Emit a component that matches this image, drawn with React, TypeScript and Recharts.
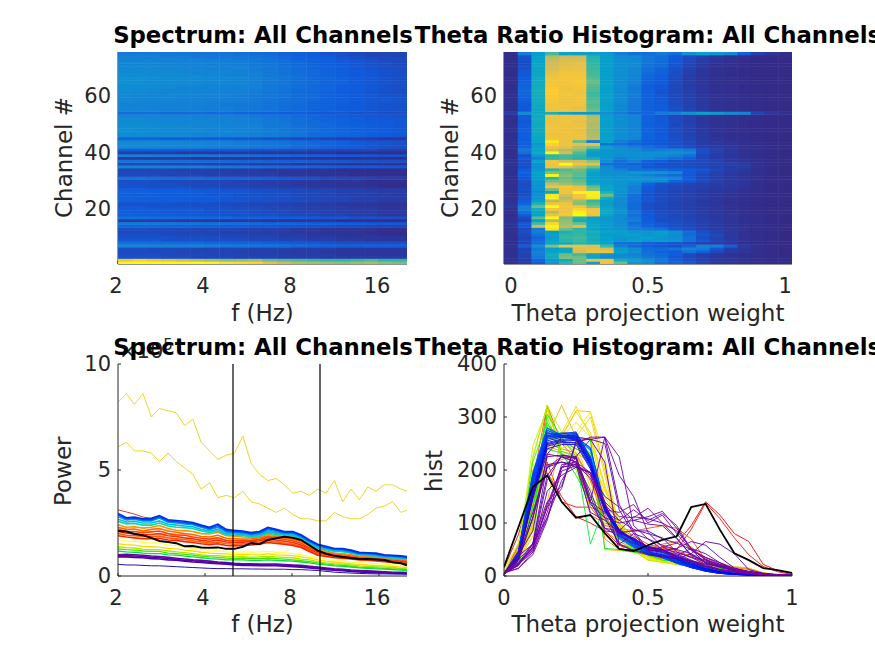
import React from "react";
import {
  ScatterChart,
  Scatter,
  LineChart,
  Line,
  XAxis,
  YAxis,
  ReferenceLine,
} from "recharts";

// parula colour stops
const parulaStops = ["#352a87", "#0f5cdd", "#1481d6", "#06a4ca", "#2eb7a4", "#87bf77", "#d1bb59", "#fec832", "#f9fb0e"];

const histLevels = [[0, 0], [10, 0.03], [30, 0.09], [45, 0.15], [55, 0.22], [70, 0.28], [130, 0.36], [190, 0.42], [220, 0.55], [240, 0.7], [262, 0.83], [320, 1]];

const spectrumFreqs = [2.12, 2.38, 2.67, 2.99, 3.36, 3.77, 4.23, 4.75, 5.33, 5.98, 6.71, 7.53, 8.45, 9.49, 10.65, 11.95, 13.41, 15.05, 16.89, 18.95];

// colour level x100, row 0 = channel 1
const spectrumHeat = [
  [98, 99, 98, 96, 94, 92, 88, 84, 82, 80, 72, 66, 62, 60, 58, 56, 58, 60, 56, 54],
  [76, 80, 76, 72, 68, 64, 60, 56, 56, 58, 52, 50, 48, 46, 44, 44, 46, 48, 44, 44],
  [9, 9, 9, 8, 8, 7, 7, 7, 6, 6, 6, 5, 5, 5, 4, 4, 4, 4, 4, 4],
  [8, 8, 8, 7, 7, 7, 6, 6, 6, 5, 5, 5, 4, 4, 4, 3, 3, 3, 3, 3],
  [7, 7, 7, 7, 6, 6, 6, 6, 5, 5, 5, 4, 4, 4, 3, 3, 3, 3, 3, 3],
  [8, 8, 7, 7, 7, 6, 6, 6, 6, 5, 5, 5, 4, 4, 4, 3, 3, 3, 3, 3],
  [24, 24, 23, 22, 22, 22, 21, 20, 20, 19, 18, 17, 15, 14, 13, 12, 12, 12, 12, 12],
  [17, 17, 16, 16, 15, 15, 14, 14, 13, 13, 12, 11, 10, 10, 9, 8, 8, 8, 8, 8],
  [10, 10, 10, 9, 9, 9, 8, 8, 8, 7, 7, 6, 6, 5, 5, 4, 4, 3, 3, 3],
  [9, 9, 9, 9, 8, 8, 8, 7, 7, 6, 6, 5, 5, 4, 4, 3, 3, 3, 3, 3],
  [8, 8, 8, 7, 7, 7, 6, 6, 6, 5, 5, 4, 4, 3, 3, 2, 2, 2, 1, 1],
  [7, 7, 7, 7, 6, 6, 6, 5, 5, 5, 4, 4, 3, 3, 2, 2, 2, 1, 1, 1],
  [8, 8, 7, 7, 7, 6, 6, 6, 5, 5, 5, 4, 3, 3, 2, 2, 2, 2, 1, 1],
  [14, 14, 14, 13, 13, 12, 12, 11, 11, 10, 10, 9, 9, 8, 8, 7, 7, 6, 6, 6],
  [20, 20, 19, 19, 18, 18, 17, 17, 16, 15, 14, 14, 13, 12, 12, 11, 11, 10, 10, 10],
  [4, 4, 4, 4, 3, 3, 3, 3, 3, 3, 2, 2, 2, 2, 2, 1, 1, 1, 1, 1],
  [18, 18, 17, 17, 16, 16, 15, 15, 14, 14, 13, 12, 12, 11, 10, 10, 9, 9, 8, 8],
  [12, 12, 11, 11, 11, 10, 10, 9, 9, 8, 8, 7, 7, 6, 5, 5, 4, 4, 3, 3],
  [12, 11, 11, 11, 10, 10, 9, 9, 9, 8, 7, 7, 6, 6, 5, 5, 4, 4, 3, 3],
  [11, 11, 11, 10, 10, 10, 9, 9, 8, 8, 7, 7, 6, 5, 5, 4, 4, 4, 3, 3],
  [10, 10, 9, 9, 9, 8, 8, 8, 7, 7, 6, 6, 5, 5, 4, 4, 3, 3, 2, 2],
  [9, 9, 9, 9, 8, 8, 8, 7, 7, 6, 6, 5, 5, 4, 4, 3, 3, 3, 2, 2],
  [13, 13, 12, 12, 12, 11, 11, 10, 10, 9, 9, 8, 8, 7, 6, 6, 5, 5, 4, 4],
  [13, 12, 12, 12, 11, 11, 11, 10, 9, 9, 8, 8, 7, 7, 6, 6, 5, 5, 4, 4],
  [12, 12, 12, 11, 11, 11, 10, 10, 9, 9, 8, 8, 7, 6, 6, 5, 5, 4, 4, 4],
  [13, 13, 12, 12, 12, 11, 10, 10, 10, 9, 8, 8, 7, 7, 6, 5, 5, 5, 4, 4],
  [12, 12, 11, 11, 11, 10, 10, 9, 9, 8, 8, 7, 7, 6, 6, 5, 5, 4, 4, 4],
  [9, 9, 8, 8, 8, 7, 7, 6, 6, 5, 5, 4, 4, 3, 3, 2, 2, 2, 1, 1],
  [9, 8, 8, 8, 7, 7, 7, 6, 6, 5, 4, 4, 3, 3, 3, 2, 2, 1, 1, 1],
  [8, 8, 8, 7, 7, 6, 6, 6, 5, 5, 4, 4, 3, 3, 2, 2, 2, 1, 1, 1],
  [18, 18, 17, 17, 16, 16, 15, 14, 14, 13, 12, 11, 10, 9, 8, 7, 7, 6, 5, 5],
  [7, 7, 7, 6, 6, 6, 5, 5, 5, 4, 4, 3, 3, 3, 2, 2, 1, 1, 1, 1],
  [7, 7, 6, 6, 6, 5, 5, 5, 4, 4, 4, 3, 3, 2, 2, 2, 1, 1, 1, 1],
  [6, 6, 6, 6, 5, 5, 5, 4, 4, 4, 3, 3, 3, 2, 2, 1, 1, 1, 1, 1],
  [24, 24, 23, 23, 22, 22, 21, 20, 19, 18, 17, 16, 15, 14, 13, 12, 11, 11, 10, 10],
  [7, 7, 7, 6, 6, 6, 5, 5, 5, 4, 4, 4, 3, 3, 3, 2, 2, 2, 2, 2],
  [18, 18, 18, 17, 17, 16, 16, 15, 14, 14, 13, 12, 12, 11, 10, 10, 9, 9, 8, 8],
  [3, 3, 3, 3, 3, 2, 2, 2, 2, 2, 2, 2, 2, 1, 1, 1, 1, 1, 1, 1],
  [22, 22, 21, 21, 20, 20, 19, 18, 18, 17, 16, 15, 14, 13, 12, 11, 11, 10, 9, 9],
  [4, 4, 4, 4, 3, 3, 3, 3, 3, 3, 2, 2, 2, 2, 2, 1, 1, 1, 1, 1],
  [12, 12, 12, 11, 11, 11, 10, 10, 10, 9, 9, 8, 8, 7, 7, 6, 6, 6, 5, 5],
  [25, 25, 24, 24, 23, 23, 22, 21, 21, 20, 19, 18, 16, 15, 13, 12, 11, 10, 9, 8],
  [25, 25, 25, 24, 24, 23, 23, 22, 21, 20, 19, 18, 16, 15, 14, 12, 11, 10, 9, 8],
  [24, 24, 24, 23, 23, 22, 22, 21, 20, 19, 18, 17, 15, 14, 13, 12, 10, 9, 9, 8],
  [13, 13, 13, 12, 12, 12, 11, 11, 10, 10, 9, 8, 7, 7, 6, 5, 5, 4, 3, 3],
  [26, 26, 26, 25, 25, 24, 24, 23, 23, 22, 21, 20, 18, 16, 15, 14, 13, 12, 11, 10],
  [26, 26, 25, 25, 25, 24, 24, 24, 23, 22, 21, 20, 18, 16, 15, 14, 13, 12, 11, 10],
  [27, 26, 26, 25, 25, 25, 24, 24, 23, 22, 21, 19, 18, 17, 15, 14, 13, 12, 11, 10],
  [26, 26, 26, 25, 25, 24, 24, 23, 23, 22, 20, 19, 18, 16, 15, 14, 13, 12, 11, 10],
  [26, 26, 25, 25, 24, 24, 24, 23, 22, 22, 20, 19, 17, 16, 15, 13, 12, 12, 11, 10],
  [25, 25, 25, 24, 24, 24, 23, 23, 22, 21, 20, 19, 17, 16, 14, 13, 12, 11, 11, 10],
  [25, 25, 24, 24, 24, 23, 23, 22, 22, 21, 20, 18, 17, 15, 14, 13, 12, 11, 10, 10],
  [24, 24, 24, 23, 23, 23, 22, 22, 21, 20, 19, 18, 16, 15, 13, 12, 11, 10, 10, 9],
  [17, 17, 17, 16, 16, 16, 15, 15, 14, 14, 13, 12, 12, 11, 10, 10, 9, 9, 8, 8],
  [23, 23, 23, 22, 22, 22, 21, 21, 20, 20, 19, 17, 16, 14, 13, 12, 11, 10, 9, 9],
  [23, 23, 22, 22, 22, 21, 21, 21, 20, 19, 18, 17, 15, 14, 13, 11, 11, 10, 9, 9],
  [23, 23, 23, 22, 22, 22, 21, 20, 20, 19, 18, 17, 15, 14, 13, 12, 11, 10, 9, 9],
  [24, 23, 23, 23, 22, 22, 21, 21, 20, 20, 18, 17, 16, 14, 13, 12, 11, 10, 10, 9],
  [24, 24, 23, 23, 22, 22, 22, 21, 21, 20, 19, 17, 16, 15, 13, 12, 11, 10, 10, 9],
  [25, 24, 24, 24, 23, 23, 22, 22, 21, 20, 19, 18, 16, 15, 13, 12, 11, 10, 9, 9],
  [25, 25, 24, 24, 24, 23, 23, 22, 22, 21, 19, 18, 16, 15, 13, 12, 11, 10, 9, 8],
  [26, 25, 25, 24, 24, 24, 23, 23, 22, 21, 20, 18, 16, 15, 14, 12, 11, 10, 9, 8],
  [26, 26, 25, 25, 24, 24, 24, 23, 22, 22, 20, 18, 17, 15, 14, 12, 11, 10, 9, 8],
  [26, 26, 26, 25, 25, 24, 24, 23, 23, 22, 20, 19, 17, 15, 14, 12, 11, 10, 9, 8],
  [27, 26, 26, 26, 25, 25, 24, 24, 23, 22, 20, 19, 17, 15, 14, 13, 11, 10, 9, 8],
  [27, 27, 26, 26, 25, 25, 25, 24, 23, 22, 21, 19, 17, 16, 14, 13, 11, 10, 9, 8],
  [26, 26, 26, 25, 25, 25, 24, 24, 23, 22, 20, 19, 17, 15, 14, 12, 11, 10, 9, 8],
  [26, 26, 25, 25, 25, 24, 24, 23, 23, 22, 20, 18, 17, 15, 14, 12, 11, 10, 9, 8],
  [25, 25, 25, 25, 24, 24, 23, 23, 22, 21, 20, 18, 16, 15, 13, 12, 11, 10, 9, 8],
  [25, 25, 25, 24, 24, 23, 23, 22, 22, 21, 19, 18, 16, 14, 13, 12, 10, 9, 8, 8],
  [24, 24, 24, 24, 23, 23, 22, 22, 21, 20, 19, 17, 15, 14, 12, 11, 10, 9, 8, 7],
  [24, 24, 24, 23, 23, 22, 22, 21, 21, 20, 18, 17, 15, 13, 12, 11, 10, 9, 8, 7],
  [23, 23, 23, 23, 22, 22, 21, 21, 20, 19, 18, 16, 14, 13, 12, 10, 9, 8, 7, 7],
  [22, 22, 22, 21, 21, 20, 20, 20, 19, 18, 17, 15, 13, 12, 11, 9, 8, 7, 7, 6],
  [20, 20, 20, 19, 19, 18, 18, 18, 17, 16, 15, 13, 12, 11, 9, 8, 7, 6, 6, 6],
];

const histBins = [0, 0.05, 0.1, 0.15, 0.2, 0.25, 0.3, 0.35, 0.4, 0.45, 0.5, 0.55, 0.6, 0.65, 0.7, 0.75, 0.8, 0.85, 0.9, 0.95, 1];

// counts per bin, row 0 = channel 1
const histCounts = [
  [6, 15, 40, 105, 205, 225, 140, 262, 225, 95, 70, 50, 45, 35, 22, 12, 8, 5, 3, 2, 1],
  [6, 14, 45, 110, 180, 225, 258, 262, 190, 150, 82, 55, 42, 30, 20, 12, 8, 5, 3, 2, 1],
  [5, 22, 55, 180, 228, 225, 150, 85, 82, 70, 55, 50, 35, 25, 18, 12, 8, 5, 3, 2, 1],
  [5, 20, 60, 190, 225, 215, 160, 90, 75, 62, 52, 48, 40, 28, 18, 11, 7, 4, 3, 2, 1],
  [5, 24, 62, 140, 170, 250, 262, 262, 135, 85, 50, 45, 38, 52, 42, 25, 14, 8, 5, 3, 1],
  [5, 20, 55, 130, 165, 255, 258, 250, 125, 80, 48, 48, 52, 65, 58, 35, 15, 8, 4, 2, 1],
  [5, 40, 85, 230, 262, 262, 258, 215, 60, 48, 40, 36, 32, 42, 65, 60, 42, 12, 5, 2, 1],
  [3, 22, 50, 160, 190, 205, 195, 140, 50, 50, 42, 38, 36, 28, 22, 18, 10, 5, 3, 2, 1],
  [5, 25, 48, 130, 205, 212, 190, 135, 105, 125, 105, 118, 95, 50, 35, 22, 14, 8, 4, 2, 1],
  [4, 22, 45, 120, 210, 215, 195, 140, 112, 110, 128, 100, 85, 52, 30, 22, 12, 6, 3, 2, 1],
  [6, 26, 52, 135, 205, 210, 185, 125, 120, 135, 100, 115, 80, 48, 35, 25, 12, 6, 4, 2, 1],
  [5, 30, 60, 110, 198, 208, 195, 150, 130, 105, 112, 122, 90, 50, 32, 20, 12, 7, 3, 2, 1],
  [4, 25, 55, 300, 225, 205, 150, 105, 95, 60, 55, 50, 35, 28, 20, 15, 10, 6, 3, 2, 1],
  [7, 35, 245, 315, 240, 255, 165, 125, 85, 55, 45, 35, 30, 25, 20, 14, 8, 6, 3, 2, 1],
  [8, 38, 215, 290, 235, 225, 150, 120, 80, 50, 42, 35, 30, 25, 18, 14, 8, 5, 3, 2, 1],
  [5, 20, 130, 240, 232, 190, 140, 110, 80, 60, 40, 30, 28, 24, 18, 14, 9, 5, 3, 2, 1],
  [6, 28, 222, 322, 228, 200, 130, 100, 70, 55, 38, 30, 26, 22, 17, 12, 8, 5, 3, 2, 1],
  [2, 40, 140, 260, 270, 320, 262, 140, 85, 50, 36, 30, 26, 22, 16, 12, 8, 5, 3, 1, 1],
  [4, 50, 150, 240, 265, 310, 270, 170, 100, 55, 35, 28, 24, 20, 15, 10, 7, 4, 2, 1, 1],
  [6, 62, 190, 270, 262, 290, 262, 165, 90, 48, 32, 26, 22, 18, 14, 10, 6, 4, 2, 1, 1],
  [12, 60, 225, 322, 272, 262, 228, 130, 70, 48, 30, 26, 22, 18, 14, 10, 6, 4, 2, 1, 1],
  [8, 45, 200, 265, 262, 230, 220, 125, 75, 48, 30, 26, 22, 18, 14, 10, 6, 4, 2, 1, 1],
  [6, 38, 130, 240, 250, 235, 210, 125, 80, 50, 35, 28, 22, 18, 14, 10, 6, 4, 2, 1, 1],
  [5, 35, 100, 312, 240, 262, 300, 190, 75, 50, 35, 28, 24, 20, 14, 10, 6, 4, 2, 1, 1],
  [4, 30, 85, 305, 250, 270, 310, 225, 85, 50, 32, 26, 22, 18, 14, 10, 7, 4, 2, 1, 1],
  [3, 28, 75, 140, 262, 312, 310, 200, 95, 60, 35, 28, 22, 18, 14, 10, 9, 6, 3, 1, 1],
  [5, 32, 90, 225, 265, 262, 230, 160, 110, 60, 36, 30, 24, 20, 16, 12, 10, 6, 3, 1, 1],
  [5, 30, 95, 262, 270, 258, 225, 150, 100, 60, 38, 30, 24, 20, 18, 14, 12, 8, 3, 1, 1],
  [4, 28, 100, 245, 235, 228, 180, 120, 100, 75, 45, 32, 28, 24, 18, 14, 12, 8, 3, 1, 1],
  [4, 32, 110, 225, 228, 222, 140, 120, 105, 88, 80, 72, 45, 35, 28, 18, 12, 8, 4, 2, 1],
  [5, 35, 120, 205, 225, 215, 135, 110, 100, 105, 98, 95, 70, 40, 25, 18, 12, 8, 4, 2, 1],
  [6, 40, 130, 320, 230, 222, 130, 95, 90, 75, 60, 52, 48, 36, 25, 18, 12, 8, 4, 2, 1],
  [5, 45, 150, 230, 225, 222, 140, 90, 85, 112, 108, 100, 72, 38, 30, 20, 14, 9, 4, 2, 1],
  [6, 38, 110, 205, 220, 225, 190, 85, 65, 52, 50, 48, 42, 40, 35, 25, 16, 12, 6, 2, 1],
  [5, 30, 85, 262, 255, 240, 225, 70, 50, 50, 36, 34, 32, 28, 25, 20, 16, 14, 6, 2, 1],
  [7, 32, 90, 262, 322, 262, 258, 50, 48, 45, 38, 32, 30, 28, 25, 22, 18, 15, 6, 2, 1],
  [6, 30, 140, 262, 250, 250, 232, 82, 50, 60, 42, 38, 32, 28, 25, 20, 12, 8, 4, 2, 1],
  [5, 38, 60, 210, 215, 205, 195, 110, 60, 80, 70, 58, 50, 42, 26, 18, 12, 8, 4, 2, 1],
  [4, 30, 110, 205, 215, 210, 120, 105, 82, 85, 85, 70, 62, 50, 24, 16, 10, 6, 3, 2, 1],
  [5, 50, 180, 322, 250, 220, 115, 100, 90, 85, 90, 95, 90, 70, 30, 18, 12, 6, 3, 2, 1],
  [4, 55, 150, 250, 240, 232, 180, 105, 90, 70, 55, 60, 65, 55, 32, 18, 12, 6, 3, 2, 1],
  [5, 45, 130, 262, 258, 240, 228, 135, 70, 60, 50, 45, 35, 30, 18, 14, 10, 6, 3, 2, 1],
  [5, 40, 105, 285, 262, 258, 258, 52, 50, 45, 40, 35, 30, 24, 15, 12, 8, 5, 3, 2, 1],
  [5, 42, 150, 305, 262, 225, 60, 135, 60, 50, 42, 38, 32, 25, 14, 10, 7, 4, 2, 1, 1],
  [6, 40, 160, 265, 262, 262, 242, 135, 85, 66, 45, 40, 32, 22, 14, 8, 5, 3, 2, 1, 1],
  [5, 42, 170, 262, 262, 262, 240, 132, 84, 68, 45, 38, 28, 22, 14, 7, 5, 3, 2, 1, 1],
  [5, 40, 175, 262, 265, 262, 238, 130, 82, 66, 44, 38, 28, 20, 12, 7, 4, 3, 2, 1, 1],
  [4, 42, 180, 265, 262, 258, 236, 128, 80, 64, 44, 36, 28, 20, 12, 7, 4, 3, 2, 1, 1],
  [4, 38, 185, 265, 262, 262, 240, 132, 84, 64, 43, 38, 28, 20, 12, 6, 4, 3, 2, 1, 1],
  [4, 40, 178, 262, 262, 262, 238, 130, 86, 66, 42, 38, 26, 20, 12, 6, 4, 3, 2, 1, 1],
  [4, 36, 182, 260, 265, 258, 240, 128, 80, 66, 44, 36, 28, 18, 10, 6, 4, 3, 2, 1, 1],
  [4, 40, 188, 262, 262, 262, 242, 132, 84, 64, 42, 38, 26, 18, 10, 6, 4, 3, 2, 1, 1],
  [4, 38, 180, 264, 262, 260, 238, 130, 78, 66, 43, 36, 26, 18, 10, 6, 4, 3, 2, 1, 1],
  [14, 78, 170, 195, 150, 112, 100, 85, 58, 48, 45, 55, 62, 95, 140, 115, 80, 65, 22, 10, 5],
  [5, 35, 170, 262, 262, 262, 225, 135, 72, 56, 44, 40, 30, 22, 14, 7, 5, 3, 2, 1, 1],
  [5, 38, 175, 265, 262, 258, 222, 132, 70, 54, 43, 40, 30, 20, 13, 7, 5, 3, 2, 1, 1],
  [4, 36, 180, 262, 265, 262, 220, 130, 72, 56, 44, 38, 28, 20, 12, 7, 4, 3, 2, 1, 1],
  [4, 40, 185, 270, 262, 262, 222, 134, 74, 54, 43, 38, 28, 20, 12, 6, 4, 3, 2, 1, 1],
  [4, 42, 188, 272, 262, 265, 218, 136, 76, 56, 42, 36, 26, 18, 12, 6, 4, 3, 2, 1, 1],
  [4, 44, 190, 275, 265, 265, 215, 132, 76, 58, 42, 36, 26, 18, 10, 6, 4, 3, 2, 1, 1],
  [4, 46, 192, 278, 266, 262, 212, 128, 76, 60, 44, 34, 26, 18, 10, 6, 4, 2, 2, 1, 1],
  [4, 48, 195, 280, 265, 265, 218, 130, 78, 58, 42, 34, 24, 18, 10, 6, 4, 2, 2, 1, 1],
  [3, 46, 190, 275, 262, 268, 220, 132, 80, 56, 40, 36, 24, 16, 10, 5, 4, 2, 2, 1, 1],
  [3, 44, 186, 270, 264, 270, 222, 134, 82, 60, 42, 36, 24, 16, 10, 5, 3, 2, 2, 1, 1],
  [3, 42, 182, 268, 268, 272, 225, 130, 78, 62, 44, 38, 26, 16, 9, 5, 3, 2, 1, 1, 1],
  [3, 40, 178, 265, 270, 270, 222, 128, 84, 64, 46, 38, 26, 16, 9, 5, 3, 2, 1, 1, 1],
  [3, 38, 172, 262, 268, 268, 218, 126, 86, 66, 46, 40, 28, 16, 9, 5, 3, 2, 1, 1, 1],
  [3, 36, 165, 258, 265, 265, 216, 128, 88, 66, 48, 42, 30, 18, 10, 5, 3, 2, 1, 1, 1],
  [3, 34, 160, 255, 262, 262, 214, 130, 88, 68, 50, 44, 32, 18, 10, 6, 3, 2, 1, 1, 1],
  [3, 32, 158, 252, 258, 260, 212, 132, 86, 68, 50, 46, 32, 20, 12, 6, 3, 2, 1, 1, 1],
  [3, 30, 155, 250, 256, 258, 210, 128, 84, 70, 52, 48, 34, 22, 12, 6, 4, 2, 1, 1, 1],
  [3, 30, 150, 248, 254, 256, 208, 126, 82, 70, 54, 48, 36, 24, 14, 8, 4, 2, 1, 1, 1],
  [3, 32, 148, 245, 252, 252, 205, 124, 82, 72, 54, 50, 36, 26, 16, 8, 4, 2, 1, 1, 1],
  [3, 34, 145, 240, 248, 248, 202, 122, 80, 70, 56, 50, 38, 28, 18, 10, 5, 3, 1, 1, 1],
  [3, 60, 120, 215, 140, 130, 130, 118, 60, 52, 50, 55, 50, 88, 138, 108, 72, 40, 18, 8, 3],
];

// hue of each channel's line, same order as histCounts
const histHues = [
  282, 280, 278, 276, 274, 272, 270, 268, 285, 283, 281, 279,
  90, 70, 105, 120, 75,
  55, 52, 56, 72, 50, 58, 54, 60, 48, 56, 52,
  40, 275, 277, 15, 273, 32, 30, 45,
  25, 270, 265, 20, 28, 110, 125, 135, 225, 155,
  165, 175, 185, 190, 195, 200, 205,
  0,
  205, 207, 209, 211, 213, 215, 217, 219, 221, 223, 225, 227, 229, 231, 233, 235, 237, 240, 243, 245,
  5,
];

const histBlack = [17, 92, 168, 190, 140, 110, 115, 81, 51, 47, 58, 68, 75, 130, 136, 87, 43, 30, 15, 11, 6];

const powerFreqs = [2, 2.14, 2.28, 2.44, 2.61, 2.78, 2.98, 3.18, 3.4, 3.63, 3.88, 4.15, 4.43, 4.74, 5.06, 5.41, 5.78, 6.17, 6.6, 7.05, 7.53, 8.05, 8.6, 9.19, 9.82, 10.49, 11.21, 11.98, 12.8, 13.68, 14.62, 15.62, 16.69, 17.83, 19.05, 20];

// power in units of 1e5, drawn in this order
const powerLines = [
  [3.12, 3.02, 2.92, 2.78, 2.72, 2.8, 2.6, 2.56, 2.5, 2.44, 2.32, 2.2, 2.3, 2.08, 2.04, 2.0, 1.96, 2.0, 2.1, 2.04, 1.98, 1.94, 1.82, 1.58, 1.32, 1.18, 1.08, 1.05, 1, 0.94, 0.92, 0.9, 0.86, 0.84, 0.82, 0.8],
  [2.42, 2.3, 2.32, 2.26, 2.3, 2.38, 2.24, 2.16, 2.14, 2.1, 2, 1.98, 2.06, 1.9, 1.88, 1.84, 1.82, 1.86, 1.96, 1.92, 1.86, 1.82, 1.72, 1.5, 1.26, 1.14, 1.06, 1.03, 0.98, 0.92, 0.9, 0.88, 0.84, 0.8, 0.78, 0.74],
  [2.3, 2.2, 2.22, 2.12, 2.2, 2.24, 2.12, 2.06, 2, 1.96, 1.86, 1.84, 1.92, 1.78, 1.76, 1.74, 1.76, 1.8, 1.88, 1.86, 1.8, 1.74, 1.62, 1.42, 1.2, 1.1, 1.02, 0.98, 0.94, 0.88, 0.86, 0.84, 0.8, 0.76, 0.74, 0.7],
  [2.22, 2.1, 2.1, 2.04, 2.08, 2.12, 2, 1.94, 1.92, 1.84, 1.78, 1.74, 1.8, 1.68, 1.66, 1.66, 1.68, 1.72, 1.82, 1.78, 1.72, 1.66, 1.54, 1.34, 1.14, 1.05, 0.98, 0.94, 0.9, 0.85, 0.83, 0.8, 0.77, 0.73, 0.7, 0.66],
  [2.1, 2.02, 2, 1.94, 1.96, 2, 1.9, 1.86, 1.8, 1.76, 1.68, 1.64, 1.7, 1.6, 1.58, 1.6, 1.62, 1.66, 1.74, 1.7, 1.64, 1.58, 1.46, 1.26, 1.08, 1, 0.93, 0.9, 0.86, 0.82, 0.8, 0.77, 0.74, 0.7, 0.67, 0.63],
  [2, 1.92, 1.9, 1.86, 1.86, 1.88, 1.8, 1.76, 1.72, 1.66, 1.6, 1.56, 1.6, 1.52, 1.5, 1.52, 1.54, 1.58, 1.66, 1.62, 1.56, 1.5, 1.4, 1.2, 1.02, 0.96, 0.9, 0.87, 0.83, 0.79, 0.77, 0.74, 0.71, 0.68, 0.64, 0.6],
  [1.9, 1.84, 1.8, 1.76, 1.76, 1.78, 1.7, 1.68, 1.62, 1.58, 1.52, 1.48, 1.52, 1.44, 1.42, 1.45, 1.46, 1.5, 1.58, 1.54, 1.5, 1.44, 1.34, 1.16, 0.98, 0.92, 0.86, 0.84, 0.8, 0.76, 0.74, 0.71, 0.68, 0.64, 0.62, 0.58],
  [8.2, 8.6, 8.1, 8.6, 7.5, 7.9, 7.8, 7.7, 7.1, 7.4, 6.3, 5.9, 5.5, 5.7, 5.8, 6.6, 5.3, 4.8, 4.5, 4.6, 4.3, 3.9, 4.0, 3.8, 4.1, 3.9, 4.5, 3.5, 4.1, 3.6, 4.2, 4.0, 4.3, 4.3, 4.1, 4.0],
  [6.1, 6.3, 5.9, 5.9, 5.8, 5.4, 5.8, 5.4, 5.1, 4.8, 4.1, 4.4, 3.7, 3.8, 3.7, 4, 3.5, 3.4, 3.2, 3, 3.2, 2.9, 2.7, 2.7, 2.6, 2.6, 3, 2.8, 2.7, 2.7, 2.9, 3.2, 3.3, 3.5, 3, 3.1],
  [1.72, 1.66, 1.64, 1.58, 1.56, 1.56, 1.46, 1.44, 1.38, 1.32, 1.26, 1.22, 1.2, 1.14, 1.12, 1.14, 1.12, 1.14, 1.16, 1.12, 1.1, 1.06, 1, 0.94, 0.84, 0.78, 0.72, 0.7, 0.66, 0.62, 0.6, 0.58, 0.56, 0.52, 0.5, 0.48],
  [1.52, 1.48, 1.46, 1.4, 1.38, 1.36, 1.3, 1.28, 1.22, 1.18, 1.12, 1.08, 1.06, 1.04, 1, 1.02, 1, 1, 1.04, 1, 0.98, 0.96, 0.9, 0.84, 0.76, 0.7, 0.66, 0.62, 0.58, 0.55, 0.52, 0.5, 0.48, 0.45, 0.42, 0.4],
  [1.38, 1.34, 1.32, 1.26, 1.24, 1.24, 1.18, 1.14, 1.1, 1.06, 1, 0.96, 0.96, 0.92, 0.9, 0.92, 0.88, 0.9, 0.92, 0.9, 0.88, 0.86, 0.8, 0.76, 0.68, 0.62, 0.58, 0.56, 0.52, 0.48, 0.46, 0.44, 0.42, 0.4, 0.36, 0.34],
  [1.28, 1.24, 1.22, 1.18, 1.16, 1.16, 1.08, 1.06, 1.02, 0.98, 0.94, 0.9, 0.88, 0.84, 0.82, 0.84, 0.82, 0.82, 0.84, 0.82, 0.8, 0.76, 0.72, 0.68, 0.62, 0.56, 0.52, 0.5, 0.46, 0.42, 0.4, 0.38, 0.36, 0.34, 0.32, 0.3],
  [1.18, 1.14, 1.12, 1.08, 1.06, 1.06, 1, 0.98, 0.94, 0.9, 0.86, 0.82, 0.8, 0.76, 0.76, 0.76, 0.74, 0.74, 0.76, 0.74, 0.72, 0.7, 0.66, 0.62, 0.56, 0.52, 0.48, 0.46, 0.42, 0.38, 0.36, 0.34, 0.32, 0.3, 0.28, 0.26],
  [2.58, 2.46, 2.48, 2.4, 2.4, 2.5, 2.36, 2.3, 2.28, 2.24, 2.12, 2.06, 2.12, 1.94, 1.92, 1.9, 1.86, 1.88, 2.02, 1.96, 1.92, 1.9, 1.76, 1.52, 1.32, 1.24, 1.16, 1.15, 1.08, 1, 0.97, 0.94, 0.88, 0.85, 0.82, 0.8],
  [2.68, 2.55, 2.58, 2.5, 2.5, 2.6, 2.44, 2.4, 2.36, 2.32, 2.2, 2.12, 2.2, 2, 1.98, 1.96, 1.9, 1.94, 2.08, 2.02, 1.96, 1.95, 1.8, 1.56, 1.36, 1.27, 1.2, 1.18, 1.1, 1.02, 1, 0.97, 0.9, 0.88, 0.85, 0.82],
  [2.8, 2.64, 2.68, 2.6, 2.6, 2.74, 2.54, 2.5, 2.46, 2.42, 2.3, 2.2, 2.3, 2.08, 2.06, 2.03, 1.96, 2, 2.18, 2.1, 2.02, 2.02, 1.86, 1.62, 1.42, 1.32, 1.24, 1.22, 1.15, 1.05, 1.04, 1, 0.94, 0.92, 0.89, 0.85],
  [2.88, 2.7, 2.74, 2.65, 2.66, 2.8, 2.6, 2.56, 2.52, 2.48, 2.36, 2.25, 2.38, 2.14, 2.1, 2.08, 2, 2.05, 2.24, 2.16, 2.06, 2.06, 1.9, 1.66, 1.46, 1.36, 1.27, 1.26, 1.18, 1.08, 1.07, 1.04, 0.97, 0.95, 0.92, 0.88],
  [2.95, 2.75, 2.78, 2.7, 2.72, 2.85, 2.65, 2.62, 2.58, 2.52, 2.4, 2.3, 2.45, 2.2, 2.15, 2.12, 2.05, 2.1, 2.3, 2.2, 2.1, 2.1, 1.95, 1.7, 1.5, 1.4, 1.3, 1.3, 1.22, 1.12, 1.1, 1.08, 1, 0.98, 0.95, 0.92],
  [1, 1.02, 1, 0.98, 0.94, 0.92, 0.88, 0.84, 0.8, 0.76, 0.74, 0.7, 0.66, 0.64, 0.6, 0.58, 0.58, 0.56, 0.56, 0.56, 0.54, 0.52, 0.5, 0.46, 0.42, 0.38, 0.34, 0.32, 0.28, 0.26, 0.24, 0.22, 0.2, 0.18, 0.18, 0.16],
  [0.95, 0.96, 0.94, 0.92, 0.88, 0.86, 0.82, 0.78, 0.74, 0.72, 0.68, 0.64, 0.62, 0.6, 0.56, 0.54, 0.54, 0.52, 0.52, 0.52, 0.5, 0.48, 0.46, 0.42, 0.38, 0.34, 0.3, 0.28, 0.25, 0.22, 0.2, 0.18, 0.17, 0.15, 0.14, 0.13],
  [0.9, 0.9, 0.88, 0.86, 0.82, 0.8, 0.76, 0.74, 0.7, 0.66, 0.64, 0.6, 0.58, 0.56, 0.52, 0.5, 0.5, 0.48, 0.48, 0.48, 0.46, 0.44, 0.42, 0.38, 0.35, 0.3, 0.27, 0.25, 0.22, 0.19, 0.17, 0.16, 0.14, 0.13, 0.12, 0.11],
  [0.55, 0.52, 0.52, 0.5, 0.48, 0.48, 0.46, 0.44, 0.42, 0.4, 0.38, 0.36, 0.35, 0.35, 0.34, 0.34, 0.33, 0.33, 0.32, 0.32, 0.32, 0.3, 0.3, 0.28, 0.26, 0.22, 0.18, 0.16, 0.14, 0.12, 0.11, 0.1, 0.1, 0.09, 0.09, 0.08],
  [2.12, 2.1, 1.98, 1.92, 1.8, 1.65, 1.6, 1.55, 1.4, 1.42, 1.35, 1.33, 1.35, 1.28, 1.28, 1.38, 1.55, 1.5, 1.7, 1.78, 1.85, 1.8, 1.7, 1.45, 1.2, 1.05, 0.95, 0.9, 0.85, 0.8, 0.8, 0.78, 0.75, 0.65, 0.6, 0.5],
];

const powerColors = ["#c8402a", "#ff9000", "#ff6a00", "#ff4000", "#ff2a00", "#ff6000", "#ff2000", "#ecd62c", "#ecd62c", "#ffff50", "#ffd800", "#a8e800", "#50e000", "#00e040", "#00e0a0", "#00c0e0", "#0090ff", "#0050f0", "#0030e0", "#6a00a8", "#5c00a8", "#5000a8", "#2410a8", "#000000"];
const powerWidths = [1, 1.6, 1.6, 1.6, 1.6, 1.6, 1.6, 1, 1, 1.3, 1.3, 1.3, 1.3, 1.3, 1.6, 1.6, 1.6, 1.6, 1.6, 1.6, 1.6, 1.6, 1, 2];

const channelTicks = [20, 40, 60];
const freqTicks = [2, 4, 8, 16];
const weightTicks = [0, 0.5, 1];
const powerTicks = [0, 5, 10];
const countTicks = [0, 100, 200, 300, 400];
const bandLimits = [5, 10];

const INK = "#262626";
const FONT = "'DejaVu Sans', sans-serif";
const tickStyle = { fontSize: 21, fill: INK, fontFamily: FONT };
const freqTickStyle = { ...tickStyle, dx: -2 };
const axisLine = { stroke: INK, strokeWidth: 1 };
const labelStyle = { fontSize: 23, fill: INK, fontFamily: FONT };

function parula(level: number) {
  const t = Math.min(0.9999, Math.max(0, level)) * (parulaStops.length - 1);
  const i = Math.floor(t);
  const a = parseInt(parulaStops[i].slice(1), 16);
  const b = parseInt(parulaStops[i + 1].slice(1), 16);
  const mix = (s: number) =>
    Math.round(((a >> s) & 255) + (((b >> s) & 255) - ((a >> s) & 255)) * (t - i));
  return `rgb(${mix(16)},${mix(8)},${mix(0)})`;
}

function countLevel(count: number) {
  for (let i = 1; i < histLevels.length; i++) {
    const [c1, l1] = histLevels[i];
    const [c0, l0] = histLevels[i - 1];
    if (count <= c1) return l0 + ((l1 - l0) * (count - c0)) / (c1 - c0);
  }
  return 1;
}

const spectrumCells = spectrumHeat.flatMap((row, r) =>
  row.map((v, c) => ({ x: spectrumFreqs[c], y: r + 1, color: parula((v / 100) * 1.12) }))
);
const histCells = histCounts.flatMap((row, r) =>
  row.map((v, c) => ({ x: histBins[c], y: r + 1, color: parula(countLevel(v)) }))
);

const powerTable = powerFreqs.map((f, i) => {
  const row: Record<string, number> = { f };
  powerLines.forEach((line, j) => (row[`p${j}`] = line[i]));
  return row;
});

const histTable = histBins.map((b, i) => {
  const row: Record<string, number> = { b, black: histBlack[i] };
  histCounts.forEach((line, j) => (row[`c${j}`] = line[i]));
  return row;
});

// red first, purple last, as the lines overlap in the picture
const histOrder = histHues.map((h, i) => ({ h, i })).sort((p, q) => p.h - q.h);

const heatCell = (w: number, h: number) => (props: any) => (
  <rect
    x={props.cx - w / 2}
    y={props.cy - h / 2}
    width={w + 0.5}
    height={h + 0.5}
    fill={props.payload?.color ?? props.color}
  />
);

const CH_W = 437;
const CH_H = 328;
const RIGHT_LEFT = 400;
const RIGHT_W = 475;

function Title({ x, y, children }: { x: number; y: number; children: React.ReactNode }) {
  return (
    <div
      style={{
        position: "absolute",
        left: x,
        top: y,
        transform: "translateX(-50%)",
        whiteSpace: "nowrap",
        font: `bold 22.8px ${FONT}`,
        color: "#000",
        lineHeight: "26px",
      }}
    >
      {children}
    </div>
  );
}

function HeatPanel(props: {
  left: number;
  width: number;
  marginLeft: number;
  marginRight: number;
  cells: any[];
  cellW: number;
  xDomain: number[];
  xTicks: number[];
  log?: boolean;
  xLabel: string;
}) {
  const { left, width, marginLeft, marginRight, cells, cellW, xDomain, xTicks, log, xLabel } = props;
  const scale = log ? "log" : "auto";
  return (
    <div style={{ position: "absolute", left, top: 0 }}>
      <ScatterChart width={width} height={CH_H} margin={{ top: 52, right: marginRight, bottom: 24, left: marginLeft }}>
        <XAxis
          type="number"
          dataKey="x"
          scale={scale as any}
          domain={xDomain}
          ticks={xTicks}
          allowDataOverflow
          interval={0}
          height={40}
          tick={log ? freqTickStyle : tickStyle}
          tickSize={-3}
          tickMargin={17}
          axisLine={axisLine}
          tickLine={axisLine}
          tickFormatter={(v) => String(v)}
          label={{ value: xLabel, position: "insideBottom", offset: -17, style: labelStyle }}
        />
        <YAxis
          type="number"
          dataKey="y"
          domain={[0.5, 75.5]}
          ticks={channelTicks}
          allowDataOverflow
          interval={0}
          width={50}
          tick={tickStyle}
          tickSize={-3}
          tickMargin={10}
          axisLine={axisLine}
          tickLine={axisLine}
          label={{ value: "Channel #", angle: -90, position: "insideLeft", dx: -9, dy: 60, style: labelStyle }}
        />
        <XAxis
          xAxisId="top"
          orientation="top"
          type="number"
          scale={scale as any}
          domain={xDomain}
          ticks={xTicks}
          allowDataOverflow
          interval={0}
          height={0}
          tickSize={-3}
          tickFormatter={() => ""}
          axisLine={axisLine}
          tickLine={axisLine}
        />
        <YAxis
          yAxisId="right"
          orientation="right"
          type="number"
          domain={[0.5, 75.5]}
          ticks={channelTicks}
          allowDataOverflow
          interval={0}
          width={0}
          tickSize={-3}
          tickFormatter={() => ""}
          axisLine={axisLine}
          tickLine={axisLine}
        />
        <Scatter data={cells} shape={heatCell(cellW, 212 / 75)} isAnimationActive={false} />
      </ScatterChart>
    </div>
  );
}

export default function App() {
  return (
    <div
      style={{
        position: "absolute",
        left: 0,
        top: 0,
        width: 875,
        height: 656,
        overflow: "hidden",
        background: "#fff",
        fontFamily: FONT,
      }}
    >
      <HeatPanel
        left={0}
        width={CH_W}
        marginLeft={68}
        marginRight={30}
        cells={spectrumCells}
        cellW={289 / 20}
        xDomain={[2, 20]}
        xTicks={freqTicks}
        log
        xLabel="f (Hz)"
      />
      <HeatPanel
        left={RIGHT_LEFT}
        width={RIGHT_W}
        marginLeft={54}
        marginRight={83}
        cells={histCells}
        cellW={288 / 21}
        xDomain={[-0.025, 1.025]}
        xTicks={weightTicks}
        xLabel="Theta projection weight"
      />

      <div style={{ position: "absolute", left: 0, top: CH_H }}>
        <LineChart width={CH_W} height={CH_H} data={powerTable} margin={{ top: 36, right: 30, bottom: 40, left: 68 }}>
          <XAxis
            type="number"
            dataKey="f"
            scale="log"
            domain={[2, 20]}
            ticks={freqTicks}
            allowDataOverflow
            interval={0}
            height={40}
            tick={freqTickStyle}
            tickSize={-3}
            tickMargin={17}
            axisLine={axisLine}
            tickLine={axisLine}
            label={{ value: "f (Hz)", position: "insideBottom", offset: -16, style: labelStyle }}
          />
          <YAxis
            type="number"
            domain={[0, 10]}
            ticks={powerTicks}
            allowDataOverflow
            interval={0}
            width={50}
            tick={tickStyle}
            tickSize={-3}
            tickMargin={10}
            axisLine={axisLine}
            tickLine={axisLine}
            label={{ value: "Power", angle: -90, position: "insideLeft", dx: -10, dy: 36, style: labelStyle }}
          />
          {powerLines.map((_, j) => (
            <Line
              key={j}
              dataKey={`p${j}`}
              stroke={powerColors[j]}
              strokeWidth={powerWidths[j]}
              dot={false}
              isAnimationActive={false}
            />
          ))}
          {bandLimits.map((f) => (
            <ReferenceLine key={f} x={f} stroke="#000" strokeWidth={1.2} />
          ))}
        </LineChart>
      </div>

      <div style={{ position: "absolute", left: RIGHT_LEFT, top: CH_H }}>
        <LineChart width={RIGHT_W} height={CH_H} data={histTable} margin={{ top: 36, right: 83, bottom: 40, left: 54 }}>
          <XAxis
            type="number"
            dataKey="b"
            domain={[0, 1]}
            ticks={weightTicks}
            allowDataOverflow
            interval={0}
            height={40}
            tick={tickStyle}
            tickSize={-3}
            tickMargin={17}
            axisLine={axisLine}
            tickLine={axisLine}
            label={{ value: "Theta projection weight", position: "insideBottom", offset: -16, style: labelStyle }}
          />
          <YAxis
            type="number"
            domain={[0, 400]}
            ticks={countTicks}
            allowDataOverflow
            interval={0}
            width={50}
            tick={tickStyle}
            tickSize={-3}
            tickMargin={10}
            axisLine={axisLine}
            tickLine={axisLine}
            label={{ value: "hist", angle: -90, position: "insideLeft", dx: -25, dy: 22, style: labelStyle }}
          />
          {histOrder.map(({ h, i }) => (
            <Line
              key={i}
              dataKey={`c${i}`}
              stroke={`hsl(${h}, 100%, ${h > 250 ? 33 : 47}%)`}
              strokeWidth={0.9}
              dot={false}
              isAnimationActive={false}
            />
          ))}
          <Line dataKey="black" stroke="#000" strokeWidth={1.8} dot={false} isAnimationActive={false} />
        </LineChart>
      </div>

      <div style={{ position: "absolute", left: 119, top: 339, font: `21px ${FONT}`, color: INK, whiteSpace: "nowrap" }}>
        ×10<sup style={{ fontSize: 15, lineHeight: 0 }}>5</sup>
      </div>

      <Title x={263} y={22}>Spectrum: All Channels</Title>
      <Title x={648} y={22}>Theta Ratio Histogram: All Channels</Title>
      <Title x={263} y={334}>Spectrum: All Channels</Title>
      <Title x={648} y={334}>Theta Ratio Histogram: All Channels</Title>
    </div>
  );
}
